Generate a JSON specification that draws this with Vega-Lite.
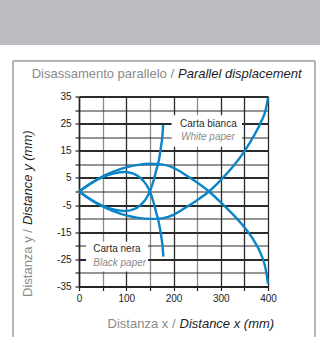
{
  "$schema": "https://vega.github.io/schema/vega-lite/v6.json",
  "width": 189,
  "height": 190,
  "autosize": {"type": "none"},
  "padding": {"left": 79, "top": 96.5, "right": 52, "bottom": 50.5},
  "background": "white",
  "config": {"view": {"stroke": null}},
  "encoding": {
    "x": {
      "field": "x", "type": "quantitative",
      "scale": {"domain": [0, 400], "nice": false, "zero": false},
      "axis": {
        "title": null,
        "values": [0, 50, 100, 150, 200, 250, 300, 350, 400],
        "labelExpr": "datum.value % 100 === 0 ? '' + datum.value : ''",
        "grid": true,
        "gridColor": {"condition": {"test": "datum.value === 50 || datum.value === 150 || datum.value === 250", "value": "#8c8c8c"}, "value": "#2b2b2b"},
        "gridWidth": 1.3,
        "domainColor": "#222222", "domainWidth": 1.5,
        "tickColor": "#222222", "tickSize": 4, "tickWidth": 1.2,
        "labelFont": "Liberation Sans", "labelFontSize": 10, "labelColor": "#222222",
        "labelPadding": 3, "labelFlush": false, "labelOverlap": false
      }
    },
    "y": {
      "field": "y", "type": "quantitative",
      "scale": {"domain": [-35, 35], "nice": false, "zero": false},
      "axis": {
        "title": null,
        "values": [-35, -30, -25, -20, -15, -10, -5, 0, 5, 10, 15, 20, 25, 30, 35],
        "labelExpr": "(datum.value + 35) % 10 === 0 ? '' + datum.value : ''",
        "grid": true,
        "gridColor": "#2b2b2b",
        "gridWidth": {"condition": {"test": "(datum.value + 35) % 10 === 0", "value": 1.8}, "value": 1.2},
        "domainColor": "#222222", "domainWidth": 1.5,
        "tickColor": "#222222", "tickSize": 4, "tickWidth": 1.2,
        "labelFont": "Liberation Sans", "labelFontSize": 10, "labelColor": "#222222",
        "labelPadding": 4, "labelFlush": false, "labelOverlap": false
      }
    }
  },
  "layer": [
    {
      "data": {"values": [{"x": -200, "x2": 560, "y": 54, "y2": 85}]},
      "mark": {"type": "rect", "fill": "#bcbdc0"},
      "encoding": {"x2": {"field": "x2"}, "y2": {"field": "y2"}}
    },
    {
      "data": {"values": [{"x": -139.7, "x2": 499.5, "y": 48.1, "y2": -70}]},
      "mark": {"type": "rect", "filled": false, "stroke": "#6e6e6e", "strokeWidth": 1},
      "encoding": {"x2": {"field": "x2"}, "y2": {"field": "y2"}}
    },
    {
      "data": {"values": [
        {"x": 196, "x2": 345, "y": 16.5, "y2": 28.1},
        {"x": 15, "x2": 146, "y": -18.5, "y2": -29.5}
      ]},
      "mark": {"type": "rect", "fill": "white"},
      "encoding": {"x2": {"field": "x2"}, "y2": {"field": "y2"}}
    },
    {
      "data": {"values": [
        {"curve": "C", "i": 0, "x": 0, "y": 0},
        {"curve": "C", "i": 1, "x": 20, "y": 2.4},
        {"curve": "C", "i": 2, "x": 40, "y": 4.6},
        {"curve": "C", "i": 3, "x": 60, "y": 6.4},
        {"curve": "C", "i": 4, "x": 80, "y": 7.8},
        {"curve": "C", "i": 5, "x": 100, "y": 8.9},
        {"curve": "C", "i": 6, "x": 125, "y": 9.8},
        {"curve": "C", "i": 7, "x": 150, "y": 10.2},
        {"curve": "C", "i": 8, "x": 175, "y": 10},
        {"curve": "C", "i": 9, "x": 200, "y": 8.7},
        {"curve": "C", "i": 10, "x": 225, "y": 6.2},
        {"curve": "C", "i": 11, "x": 250, "y": 3.3},
        {"curve": "C", "i": 12, "x": 275, "y": 0},
        {"curve": "C", "i": 13, "x": 300, "y": -4},
        {"curve": "C", "i": 14, "x": 325, "y": -8.3},
        {"curve": "C", "i": 15, "x": 350, "y": -13.2},
        {"curve": "C", "i": 16, "x": 370, "y": -18},
        {"curve": "C", "i": 17, "x": 385, "y": -23},
        {"curve": "C", "i": 18, "x": 395, "y": -28.5},
        {"curve": "C", "i": 19, "x": 400, "y": -34},
        {"curve": "D", "i": 0, "x": 0, "y": 0},
        {"curve": "D", "i": 1, "x": 20, "y": -2.4},
        {"curve": "D", "i": 2, "x": 40, "y": -4.6},
        {"curve": "D", "i": 3, "x": 60, "y": -6.3},
        {"curve": "D", "i": 4, "x": 80, "y": -7.7},
        {"curve": "D", "i": 5, "x": 100, "y": -8.8},
        {"curve": "D", "i": 6, "x": 125, "y": -9.7},
        {"curve": "D", "i": 7, "x": 150, "y": -10.1},
        {"curve": "D", "i": 8, "x": 175, "y": -9.9},
        {"curve": "D", "i": 9, "x": 200, "y": -8.6},
        {"curve": "D", "i": 10, "x": 225, "y": -6},
        {"curve": "D", "i": 11, "x": 250, "y": -3.2},
        {"curve": "D", "i": 12, "x": 275, "y": 0},
        {"curve": "D", "i": 13, "x": 300, "y": 4.2},
        {"curve": "D", "i": 14, "x": 325, "y": 9},
        {"curve": "D", "i": 15, "x": 350, "y": 14.8},
        {"curve": "D", "i": 16, "x": 370, "y": 20.5},
        {"curve": "D", "i": 17, "x": 385, "y": 25.5},
        {"curve": "D", "i": 18, "x": 395, "y": 30},
        {"curve": "D", "i": 19, "x": 400, "y": 34.5},
        {"curve": "A", "i": 0, "x": 0, "y": 0},
        {"curve": "A", "i": 1, "x": 25, "y": 3},
        {"curve": "A", "i": 2, "x": 50, "y": 5.3},
        {"curve": "A", "i": 3, "x": 75, "y": 6.7},
        {"curve": "A", "i": 4, "x": 97, "y": 7.2},
        {"curve": "A", "i": 5, "x": 115, "y": 6.6},
        {"curve": "A", "i": 6, "x": 130, "y": 5},
        {"curve": "A", "i": 7, "x": 142, "y": 2.6},
        {"curve": "A", "i": 8, "x": 150, "y": 0},
        {"curve": "A", "i": 9, "x": 157, "y": -3.5},
        {"curve": "A", "i": 10, "x": 163, "y": -7.5},
        {"curve": "A", "i": 11, "x": 169, "y": -11.5},
        {"curve": "A", "i": 12, "x": 174, "y": -16.5},
        {"curve": "A", "i": 13, "x": 177, "y": -20.5},
        {"curve": "A", "i": 14, "x": 178.5, "y": -24},
        {"curve": "B", "i": 0, "x": 0, "y": 0},
        {"curve": "B", "i": 1, "x": 25, "y": -3},
        {"curve": "B", "i": 2, "x": 50, "y": -5.3},
        {"curve": "B", "i": 3, "x": 75, "y": -6.7},
        {"curve": "B", "i": 4, "x": 97, "y": -7.2},
        {"curve": "B", "i": 5, "x": 115, "y": -6.6},
        {"curve": "B", "i": 6, "x": 130, "y": -5},
        {"curve": "B", "i": 7, "x": 142, "y": -2.6},
        {"curve": "B", "i": 8, "x": 150, "y": 0},
        {"curve": "B", "i": 9, "x": 157, "y": 3.5},
        {"curve": "B", "i": 10, "x": 163, "y": 7.5},
        {"curve": "B", "i": 11, "x": 169, "y": 11.5},
        {"curve": "B", "i": 12, "x": 173.5, "y": 16.5},
        {"curve": "B", "i": 13, "x": 176.5, "y": 20.5},
        {"curve": "B", "i": 14, "x": 178, "y": 24.5}
      ]},
      "mark": {"type": "line", "interpolate": "monotone", "color": "#0b85c7", "strokeWidth": 2.4},
      "encoding": {"detail": {"field": "curve"}, "order": {"field": "i"}}
    },
    {
      "data": {"values": [{"x": 213.8, "y": 25.0, "t": "Carta bianca"}, {"x": 30.3, "y": -21.1, "t": "Carta nera"}]},
      "mark": {"type": "text", "align": "left", "baseline": "middle", "font": "Liberation Sans", "fontSize": 10, "color": "#2a2a2a"},
      "encoding": {"text": {"field": "t"}}
    },
    {
      "data": {"values": [{"x": 215.9, "y": 20.1, "t": "White paper"}, {"x": 30.3, "y": -26.3, "t": "Black paper"}]},
      "mark": {"type": "text", "align": "left", "baseline": "middle", "font": "Liberation Sans", "fontSize": 10, "fontStyle": "italic", "color": "#8a8a8a"},
      "encoding": {"text": {"field": "t"}}
    },
    {
      "data": {"values": [{"x": 205.3, "y": 43.3, "t": "Disassamento parallelo /"}, {"x": 208.5, "y": -48.8, "t": "Distanza x /"}]},
      "mark": {"type": "text", "align": "right", "baseline": "middle", "dx": -2, "font": "Liberation Sans", "fontSize": 13, "color": "#8a8a8a"},
      "encoding": {"text": {"field": "t"}}
    },
    {
      "data": {"values": [{"x": 205.3, "y": 43.3, "t": "Parallel displacement"}, {"x": 208.5, "y": -48.8, "t": "Distance x (mm)"}]},
      "mark": {"type": "text", "align": "left", "baseline": "middle", "dx": 2, "font": "Liberation Sans", "fontSize": 13, "fontStyle": "italic", "color": "#1e1e1e"},
      "encoding": {"text": {"field": "t"}}
    },
    {
      "data": {"values": [{"x": -106.9, "y": -13.1, "t": "Distanza y /"}]},
      "mark": {"type": "text", "align": "right", "baseline": "middle", "angle": 270, "dx": -2, "font": "Liberation Sans", "fontSize": 13, "color": "#8a8a8a"},
      "encoding": {"text": {"field": "t"}}
    },
    {
      "data": {"values": [{"x": -106.9, "y": -13.1, "t": "Distance y (mm)"}]},
      "mark": {"type": "text", "align": "left", "baseline": "middle", "angle": 270, "dx": 2, "font": "Liberation Sans", "fontSize": 13, "fontStyle": "italic", "color": "#1e1e1e"},
      "encoding": {"text": {"field": "t"}}
    }
  ]
}
